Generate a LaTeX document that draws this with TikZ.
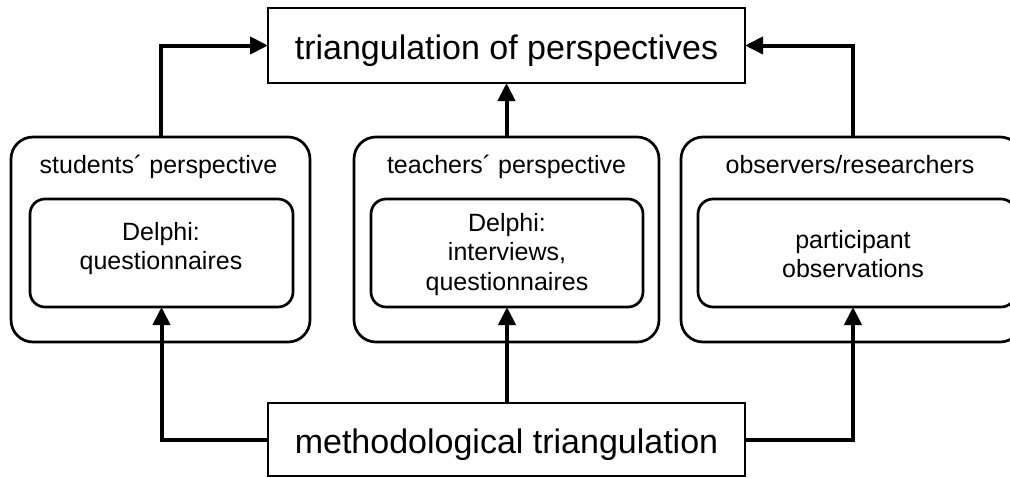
\documentclass[tikz,border=0pt]{standalone}
\usepackage{fontspec}
\setmainfont{Liberation Sans}
\usetikzlibrary{arrows.meta}
\begin{document}
\begin{tikzpicture}[x=1pt,y=-1pt,
  plainbox/.style={draw, line width=2.5pt, rectangle, inner sep=0pt, outer sep=0pt},
  outerbox/.style={draw, line width=2.7pt, rectangle, rounded corners=22pt, inner sep=0pt, outer sep=0pt},
  innerbox/.style={draw, line width=2.7pt, rectangle, rounded corners=15pt, inner sep=0pt, outer sep=0pt},
  bigtxt/.style={font=\fontsize{34}{40}\selectfont, anchor=base, inner sep=0pt},
  smalltxt/.style={font=\fontsize{25}{29}\selectfont, anchor=base, inner sep=0pt},
  conn/.style={line width=4pt, line join=miter, -{Triangle[length=18pt,width=17pt]}}]
\useasboundingbox (0,0) rectangle (1010,477);
\clip (0,0) rectangle (1010,477);

% top and bottom boxes
\node[plainbox, minimum width=477pt, minimum height=75pt] (top) at (506.5,45.5) {};
\node[bigtxt] (toptxt) at (506.5,59) {triangulation of perspectives};
\node[plainbox, minimum width=477pt, minimum height=73pt] (bot) at (506.5,439.5) {};
\node[bigtxt] (bottxt) at (506.5,453) {methodological triangulation};

% outer boxes
\node[outerbox, minimum width=299pt, minimum height=205pt] (oL) at (160.5,239.5) {};
\node[outerbox, minimum width=305pt, minimum height=205pt] (oM) at (506.5,239.5) {};
\node[outerbox, minimum width=341pt, minimum height=205pt] (oR) at (851.5,239.5) {};

% inner boxes
\node[innerbox, minimum width=263pt, minimum height=108pt] (iL) at (161.5,253) {};
\node[innerbox, minimum width=272pt, minimum height=108pt] (iM) at (507,253) {};
\node[innerbox, minimum width=318pt, minimum height=108pt] (iR) at (857,253) {};

% headers
\node[smalltxt] (hL) at (158.5,173) {students´ perspective};
\node[smalltxt] (hM) at (506.5,173) {teachers´ perspective};
\node[smalltxt] (hR) at (850,173) {observers/researchers};

% inner texts
\node[smalltxt] (tL1) at (161,240) {Delphi:};
\node[smalltxt] (tL2) at (161,269.5) {questionnaires};
\node[smalltxt] (tM1) at (507,231) {Delphi:};
\node[smalltxt] (tM2) at (507,260.5) {interviews,};
\node[smalltxt] (tM3) at (507,290) {questionnaires};
\node[smalltxt] (tR1) at (853,248) {participant};
\node[smalltxt] (tR2) at (853,277.5) {observations};

\coordinate (rx) at (853,0);

% connectors to top
\draw[conn] (oL.north) |- (top.west);
\draw[conn] (oM.north) -- (oM.north |- top.south);
\draw[conn] (rx |- oR.north) |- (top.east);

% connectors from bottom
\draw[conn] (bot.west) -| (iL.south);
\draw[conn] (bot.north -| iM.south) -- (iM.south);
\draw[conn] (bot.east) -| (rx |- iR.south);
\end{tikzpicture}
\end{document}
